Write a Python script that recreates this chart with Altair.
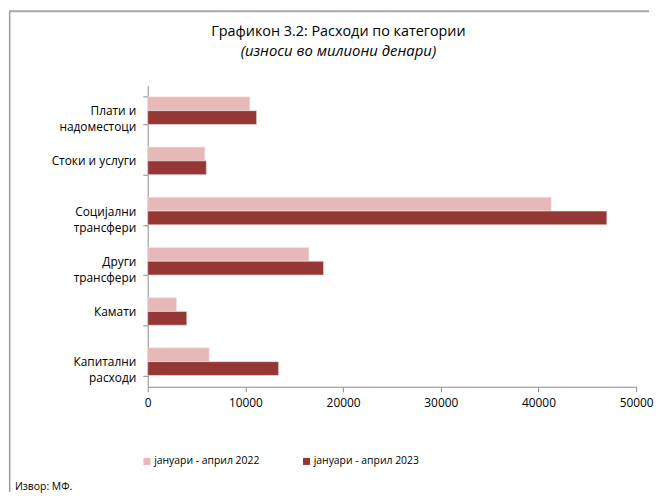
import altair as alt
import pandas as pd
import json

NB = "\u00a0"
categories = ["Плати и надоместоци", "Стоки и услуги", "Социјални трансфери",
              "Други трансфери", "Камати", "Капитални расходи"]
# axis label lines (shorter lines padded so they sit centred over the longer one)
label_lines = [["Плати и" + NB * 5, "надоместоци"], ["Стоки и услуги"],
               ["Социјални", "трансфери"], ["Други" + NB * 4, "трансфери"],
               ["Камати"], ["Капитални", "расходи" + NB * 3]]
series = ["јануари - април 2022", "јануари - април 2023"]
values_2022 = [10450, 5850, 41300, 16500, 2950, 6300]
values_2023 = [11150, 6000, 47000, 18000, 4000, 13400]
colors = ["#E6B9B8", "#953735"]
x_ticks = [0, 10000, 20000, 30000, 40000, 50000]

rows = []
for c, a, b in zip(categories, values_2022, values_2023):
    rows.append({"cat": c, "series": series[0], "value": a})
    rows.append({"cat": c, "series": series[1], "value": b})
df = pd.DataFrame(rows)

label_map = json.dumps(dict(zip(categories, label_lines)), ensure_ascii=False)
label_expr = f"{label_map}[datum.label]"

FONT = "Open Sans"
W, H = 493, 304

bars = alt.Chart(df).mark_bar(stroke="#f4e4e4", strokeWidth=0.6).encode(
    y=alt.Y("cat:N", sort=categories, title=None,
            scale=alt.Scale(paddingInner=0.45, paddingOuter=0.225),
            axis=alt.Axis(labelExpr=label_expr, labelAlign="right", labelPadding=7,
                          tickBand="extent", tickSize=5,
                          tickColor="#8c8c8c", domainColor="#8c8c8c",
                          labelFont=FONT, labelFontSize=12, labelColor="#000",
                          labelLineHeight=16.5)),
    yOffset=alt.YOffset("series:N", sort=series),
    x=alt.X("value:Q", title=None,
            scale=alt.Scale(domain=[0, 50000], nice=False),
            axis=alt.Axis(values=x_ticks, grid=False, tickSize=5, tickColor="#8c8c8c",
                          domainColor="#8c8c8c", labelFont=FONT, labelFontSize=12,
                          labelColor="#000", labelPadding=6, format="d",
                          labelFlush=False)),
    color=alt.Color("series:N", sort=series,
                    scale=alt.Scale(domain=series, range=colors),
                    legend=alt.Legend(title=None, orient="none", legendX=-6, legendY=374,
                                      direction="horizontal", symbolType="square",
                                      symbolSize=50, symbolStrokeWidth=0,
                                      labelFont=FONT, labelFontSize=10.5, labelColor="#000",
                                      labelOffset=2, columnPadding=42)),
)

one = pd.DataFrame({"a": [0]})
left_line = alt.Chart(one).mark_rule(color="#9a9a9a", strokeWidth=1.5).encode(
    x=alt.value(-139.3), y=alt.value(-75), y2=alt.value(410))
top_line = alt.Chart(one).mark_rule(color="#a8a8a8", strokeWidth=2).encode(
    x=alt.value(-140), x2=alt.value(506), y=alt.value(-75))
source = alt.Chart(one).mark_text(text="Извор: МФ.", align="left", baseline="middle",
                                  font=FONT, fontSize=10.5, color="#000").encode(
    x=alt.value(-134), y=alt.value(405))
title = alt.Chart(one).mark_text(text="Графикон 3.2: Расходи по категории",
                                 align="center", baseline="middle", font=FONT,
                                 fontSize=14.5, color="#000").encode(
    x=alt.value(192.5), y=alt.value(-54))
subtitle = alt.Chart(one).mark_text(text="(износи во милиони денари)",
                                    align="center", baseline="middle", font=FONT,
                                    fontSize=15, fontStyle="italic", color="#000").encode(
    x=alt.value(192.5), y=alt.value(-35))

chart = alt.layer(bars, left_line, top_line, source, title, subtitle).properties(
    width=W, height=H, padding=0,
).configure(background="white").configure_view(stroke=None)

chart.save("out.html", embed_options={"renderer": "svg", "actions": False})
